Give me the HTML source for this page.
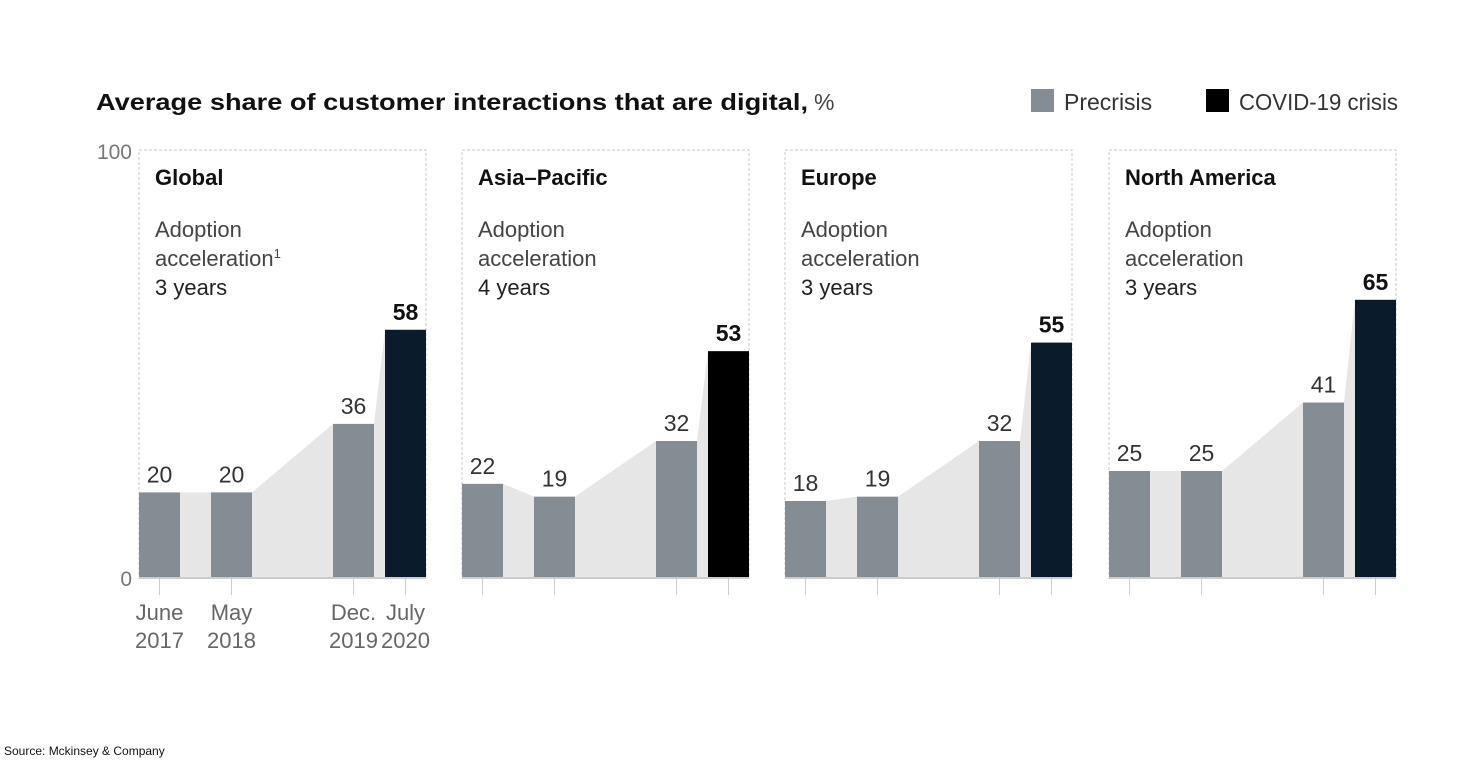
<!DOCTYPE html>
<html><head><meta charset="utf-8"><style>
body{margin:0;background:#fff;width:1463px;height:762px;overflow:hidden;font-family:"Liberation Sans",sans-serif}
</style></head><body>
<svg width="1463" height="762" xmlns="http://www.w3.org/2000/svg" font-family="Liberation Sans, sans-serif">
<text x="96" y="110" font-size="23" font-weight="bold" fill="#111"><tspan textLength="712" lengthAdjust="spacingAndGlyphs">Average share of customer interactions that are digital,</tspan><tspan font-weight="normal" fill="#444" dx="6">%</tspan></text>
<g>
<rect x="1031" y="89" width="23" height="23" fill="#848c94"/>
<text x="1064" y="110" font-size="23" fill="#333">Precrisis</text>
<rect x="1206" y="89" width="23" height="23" fill="#000"/>
<text x="1239" y="110" font-size="23" fill="#333" textLength="159" lengthAdjust="spacingAndGlyphs">COVID-19 crisis</text>
</g>
<text x="132" y="159" font-size="21" fill="#777" text-anchor="end">100</text>
<text x="132" y="586" font-size="21" fill="#777" text-anchor="end">0</text>
<g id="panels"></g>
<text x="4" y="755" font-size="12" fill="#111">Source: Mckinsey &amp; Company</text>
</svg>
<script>
const regions = ["Global","Asia–Pacific","Europe","North America"];
const years = ["3 years","4 years","3 years","3 years"];
const precrisis = [[20,20,36],[22,19,32],[18,19,32],[25,25,41]];
const covid = [58,53,55,65];
const xLabels = [["June","2017"],["May","2018"],["Dec.","2019"],["July","2020"]];
const NS="http://www.w3.org/2000/svg";
const g=document.getElementById('panels');
const y0=578, pxPer=4.28;
const yS=v=>y0-v*pxPer;
const panelX=[139,462,785,1109];
const barOff=[0,72,194,246], bw=41;
function mk(tag,attrs){const e=document.createElementNS(NS,tag);for(const k in attrs)e.setAttribute(k,attrs[k]);return e;}
regions.forEach((r,i)=>{
  const px=panelX[i];
  const p=mk('g',{});
  
  
  g.appendChild(p);
  const box=mk('rect',{x:px,y:150,width:287,height:428,fill:'none',stroke:'#c8c8c8','stroke-dasharray':'3,2'});
  
  
  p.appendChild(box);
  const vals=[...precrisis[i],covid[i]];
  const xs=barOff.map(o=>px+o);
  const pts=[[xs[0]+bw,yS(vals[0])],[xs[1],yS(vals[1])],[xs[1]+bw,yS(vals[1])],[xs[2],yS(vals[2])],[xs[2]+bw,yS(vals[2])],[xs[3],yS(vals[3])],[xs[3],y0],[xs[0]+bw,y0]];
  const area=mk('polygon',{points:pts.map(q=>q.join(',')).join(' '),fill:'#e6e6e6'});
  
  
  p.appendChild(area);
  vals.forEach((v,j)=>{
    const isC=j===3;
    const b=mk('rect',{x:xs[j],y:yS(v),width:bw,height:v*pxPer,fill:isC?(i===1?'#000':'#0a1b2c'):'#848c94'});
    
    
    p.appendChild(b);
    const t=mk('text',{x:xs[j]+bw/2,y:yS(v)-10,'font-size':23,'font-weight':isC?'bold':'normal',fill:isC?'#111':'#333','text-anchor':'middle'});
    t.textContent=v;
    
    
    p.appendChild(t);
    const tk=mk('line',{x1:xs[j]+bw/2,x2:xs[j]+bw/2,y1:y0,y2:595,stroke:'#ccc'});
    
    
    p.appendChild(tk);
    if(i===0){
      xLabels[j].forEach((s,k)=>{
        const xl=mk('text',{x:xs[j]+bw/2,y:620+k*28,'font-size':22,fill:'#666','text-anchor':'middle'});
        xl.textContent=s;
        
        
        p.appendChild(xl);
      });
    }
  });
  const base=mk('line',{x1:px,x2:px+287,y1:y0,y2:y0,stroke:'#ccc','stroke-width':2});
  
  
  p.appendChild(base);
  const tt=mk('text',{x:px+16,y:185,'font-size':22,'font-weight':'bold',fill:'#111'});
  tt.textContent=r;
  
  
  p.appendChild(tt);
  const lines=["Adoption","acceleration",years[i]];
  lines.forEach((s,k)=>{
    const t=mk('text',{x:px+16,y:237+k*29,'font-size':22,fill:k===2?'#222':'#444'});
    t.textContent=s;
    if(k===1&&i===0){const sp=mk('tspan',{'font-size':13,dy:-8});sp.textContent='1';t.appendChild(sp);}
    
    
    p.appendChild(t);
  });
});
</script>
</body></html>
